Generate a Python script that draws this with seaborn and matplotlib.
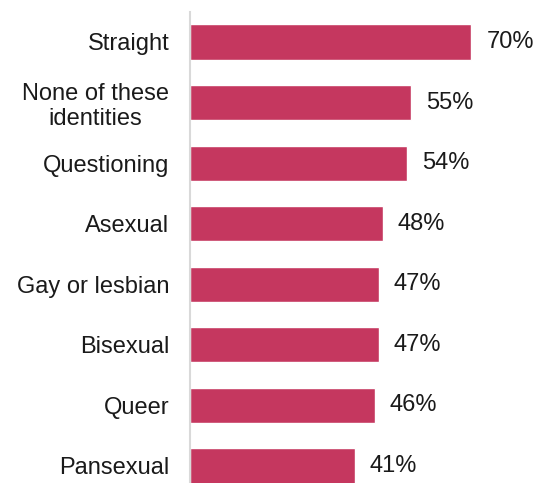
import matplotlib
matplotlib.use("Agg")
import matplotlib.pyplot as plt
import seaborn as sns
import pandas as pd

categories = ["Straight", "None of these\nidentities", "Questioning", "Asexual",
              "Gay or lesbian", "Bisexual", "Queer", "Pansexual"]
values = [70, 55, 54, 48, 47, 47, 46, 41]
value_labels = ["70%", "55%", "54%", "48%", "47%", "47%", "46%", "41%"]

sns.set_theme(style="white")
plt.rcParams['font.family'] = ['Liberation Sans', 'DejaVu Sans']

df = pd.DataFrame({"cat": categories, "val": values})

W, H = 541, 483
fig = plt.figure(figsize=(W / 100, H / 100), dpi=100)
x0 = 190
px_per = (471 - x0) / 70.0
xmax = (W - x0) / px_per
spacing = (466 - 42) / 7.0
top = 42 - spacing / 2
bottom = 466 + spacing / 2
ax = fig.add_axes([x0 / W, (H - bottom) / H, (W - x0) / W, (bottom - top) / H])

sns.barplot(data=df, x="val", y="cat", orient="h", color="#C5375F",
            saturation=1, width=0.58, ax=ax)
ax.set_xlim(0, xmax)
ax.set_ylim(7.5, -0.5)
ax.set_xlabel("")
ax.set_ylabel("")
ax.set_xticks([])
for s in ["top", "right", "bottom"]:
    ax.spines[s].set_visible(False)
ax.spines["left"].set_color("#D9D9D9")
ax.spines["left"].set_linewidth(1.5)
ax.tick_params(axis="y", length=0, pad=15, labelsize=17, labelcolor="#1a1a1a")
for lbl in ax.get_yticklabels():
    lbl.set_horizontalalignment("right")
    lbl.set_multialignment("center")

ax.bar_label(ax.containers[0], labels=value_labels, padding=11, fontsize=17,
             color="#1a1a1a")

fig.savefig("out.png", dpi=100)
